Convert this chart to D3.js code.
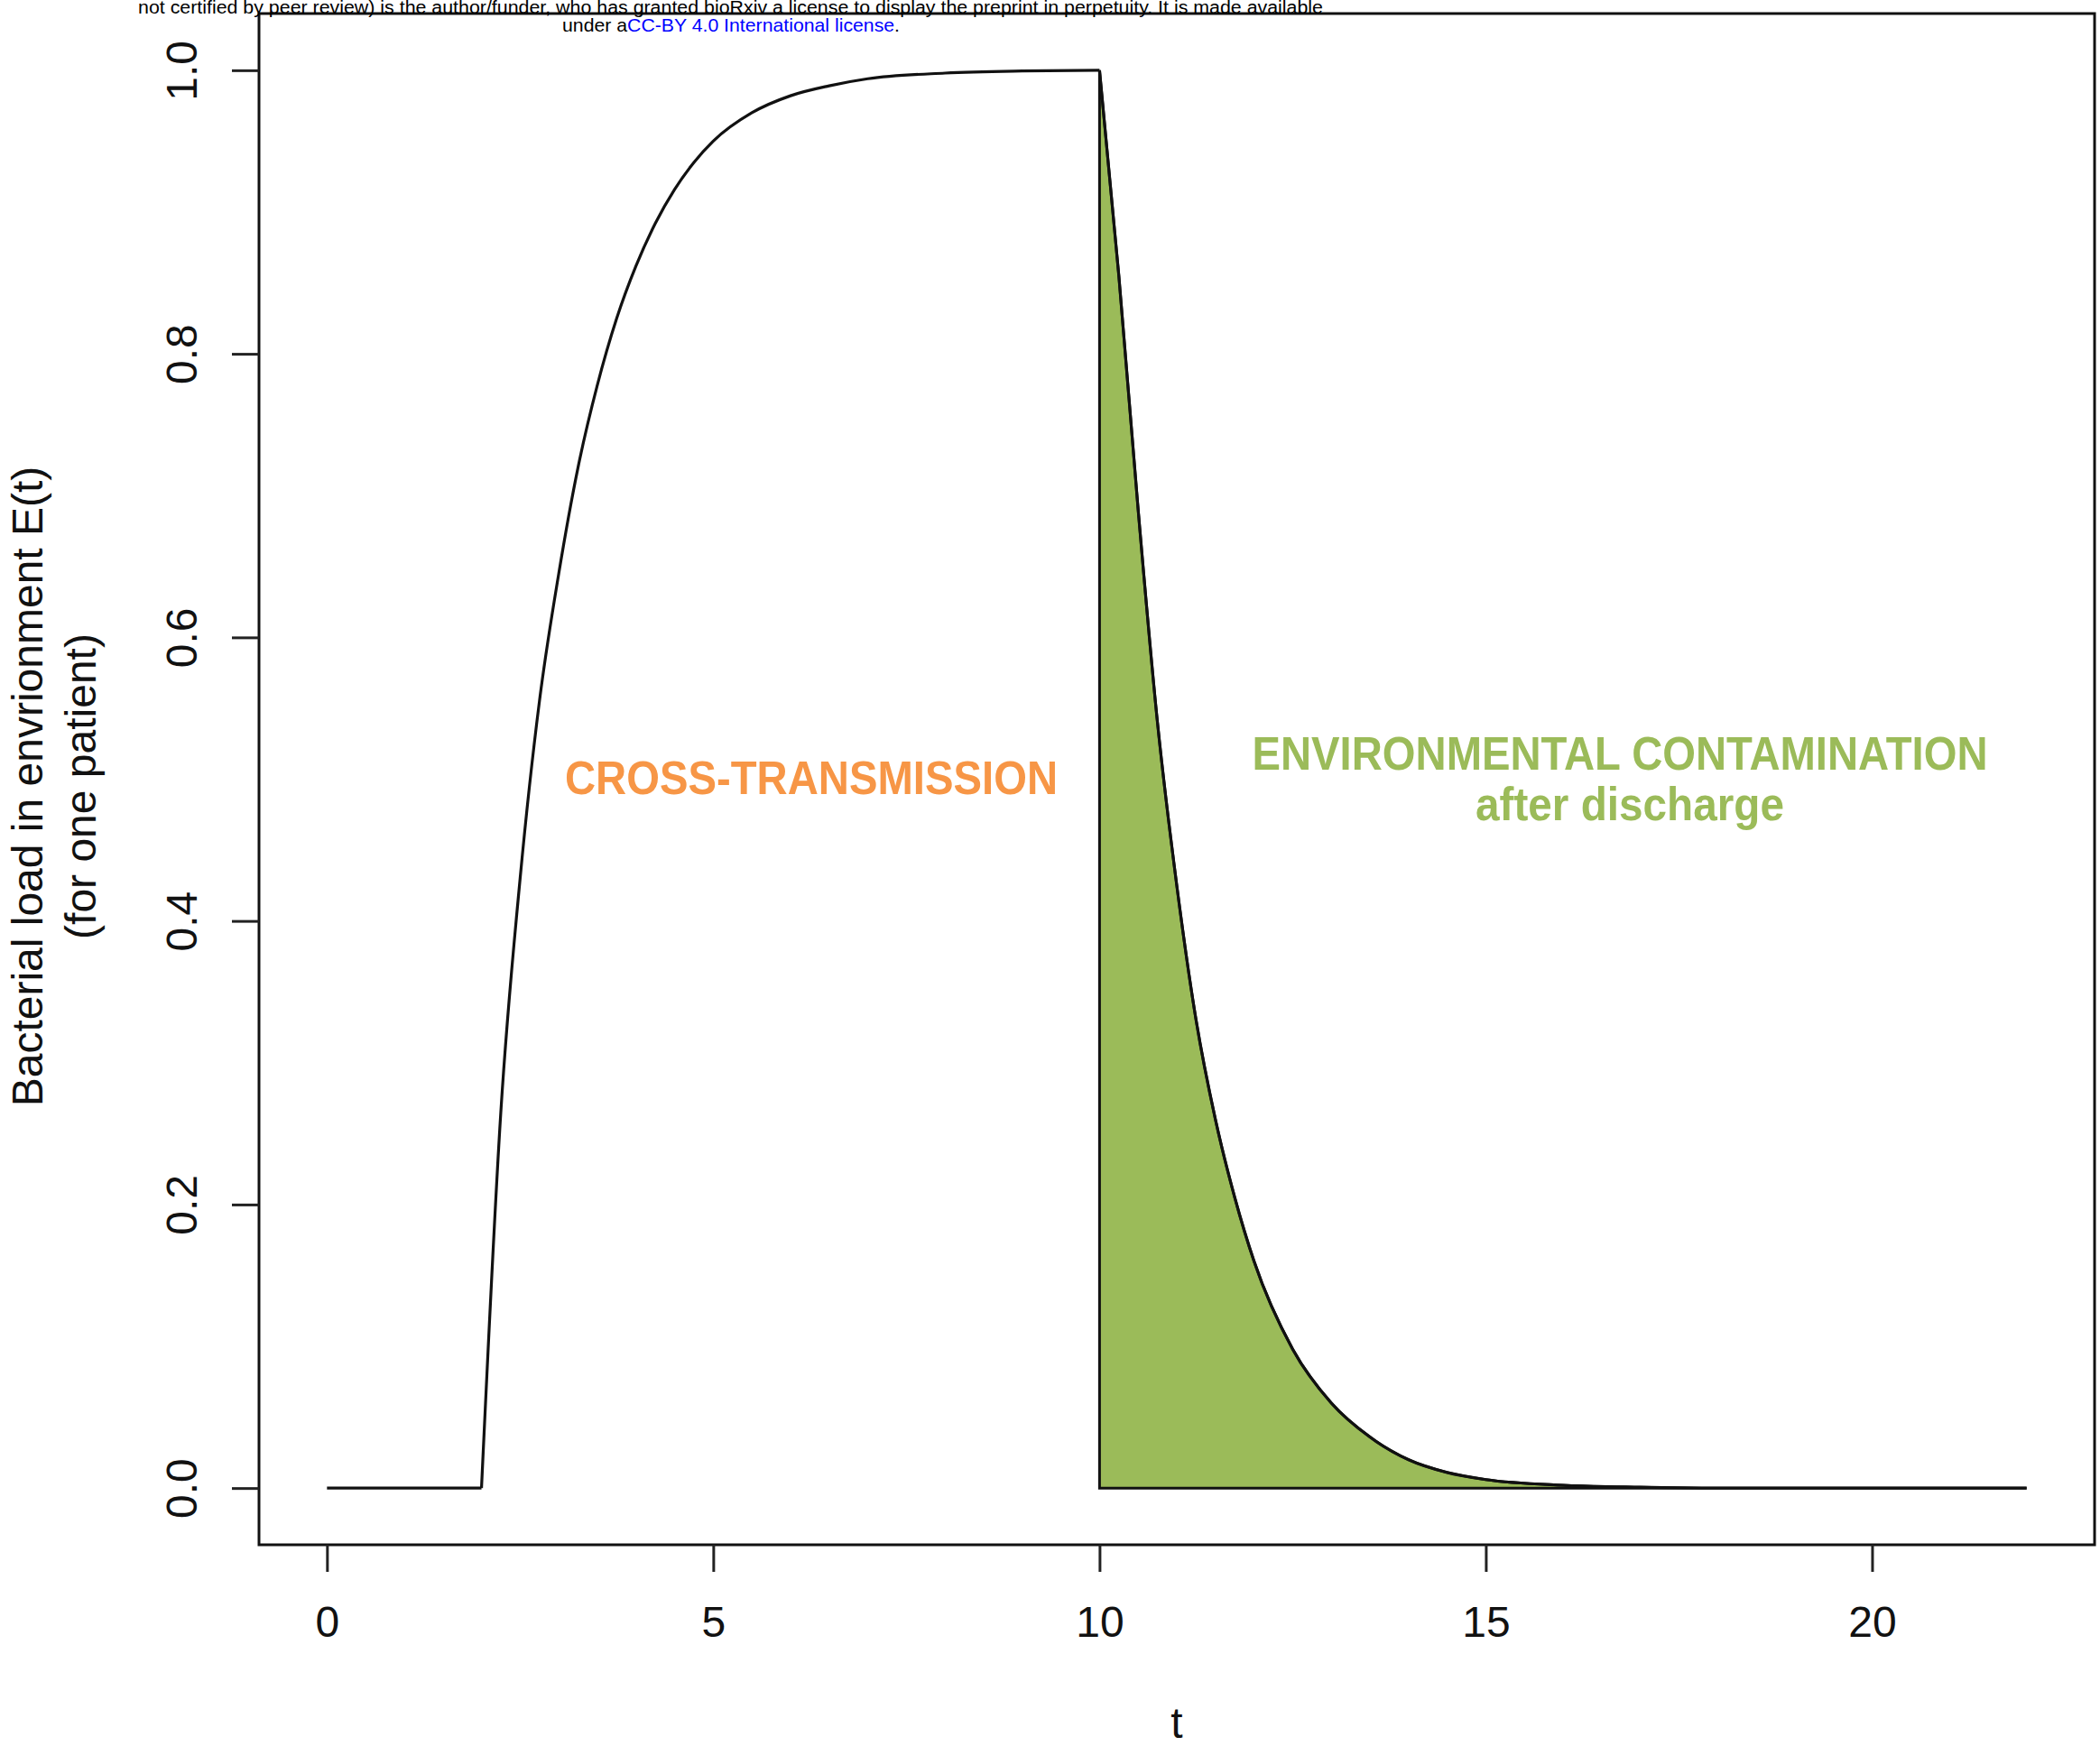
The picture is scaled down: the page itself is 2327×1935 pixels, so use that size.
<!DOCTYPE html>
<html>
<head>
<meta charset="utf-8">
<script src="https://cdn.jsdelivr.net/npm/d3@7"></script>
<style>
  body { margin: 0; background: #fff; }
  text { font-family: "Liberation Sans", Arial, Helvetica, sans-serif; }
</style>
</head>
<body>
<div id="chart"></div>
<script>
// Chart values
var flatT = [0, 2];
var flatE = [0, 0];

var riseT = [2, 2.25, 2.5, 2.75, 3, 3.25, 3.5, 3.75, 4, 4.25, 4.5, 4.75, 5, 5.5, 6, 6.5, 7, 8, 9, 10];
var riseE = [0, 0.265, 0.43, 0.555, 0.645, 0.72, 0.778, 0.825, 0.862, 0.892, 0.916, 0.935, 0.95, 0.97, 0.982, 0.989, 0.994, 0.998, 0.9995, 1.0];

var decayT = [10, 10.25, 10.5, 10.75, 11, 11.25, 11.5, 11.75, 12, 12.5, 13, 13.5, 14, 14.5, 15, 16, 17, 18, 22];
var decayE = [1.0, 0.855, 0.69, 0.54, 0.425, 0.33, 0.26, 0.205, 0.16, 0.098, 0.06, 0.036, 0.02, 0.011, 0.006, 0.002, 0.0006, 0, 0];

var xTicks = [0, 5, 10, 15, 20];
var yTicks = [0.0, 0.2, 0.4, 0.6, 0.8, 1.0];

// Chart params
var svgWidth = 2327;
var svgHeight = 1935;
var box = {left: 287, right: 2321, top: 15, bottom: 1712};

var svg = d3.select("#chart")
    .append("svg")
    .attr("width", svgWidth)
    .attr("height", svgHeight);

// R style extended limits (4% each side)
var x = d3.scaleLinear()
    .domain([-0.88, 22.88])
    .range([box.left, box.right]);

var y = d3.scaleLinear()
    .domain([-0.04, 1.04])
    .range([box.bottom, box.top]);

var zip = (ts, es) => ts.map((t, i) => ({t: t, e: es[i]}));
var flat = zip(flatT, flatE);
var rise = zip(riseT, riseE);
var decay = zip(decayT, decayE);

// green area after discharge
var area = d3.area()
    .x(d => x(d.t))
    .y0(y(0))
    .y1(d => y(d.e))
    .curve(d3.curveMonotoneX);

svg.append("path")
    .datum(decay)
    .attr("d", area)
    .attr("fill", "#9bbb59")
    .attr("stroke", "#111")
    .attr("stroke-width", 3);

var line = d3.line()
    .x(d => x(d.t))
    .y(d => y(d.e))
    .curve(d3.curveMonotoneX);

[flat, rise, decay].forEach(function(seg) {
    svg.append("path")
        .datum(seg)
        .attr("d", line)
        .attr("fill", "none")
        .attr("stroke", "#111")
        .attr("stroke-width", 3.2);
});

// box
svg.append("rect")
    .attr("x", box.left)
    .attr("y", box.top)
    .attr("width", box.right - box.left)
    .attr("height", box.bottom - box.top)
    .attr("fill", "none")
    .attr("stroke", "#111")
    .attr("stroke-width", 3);

// axes
var bottomAxis = d3.axisBottom(x)
    .tickValues(xTicks)
    .tickSize(30)
    .tickPadding(38)
    .tickFormat(d3.format("d"));

var xAxis = svg.append("g")
    .attr("transform", `translate(0, ${box.bottom})`)
    .call(bottomAxis);
xAxis.select(".domain").remove();
xAxis.selectAll("line").attr("stroke", "#222").attr("stroke-width", 3);
xAxis.selectAll("text")
    .attr("font-size", 48)
    .attr("font-family", "Liberation Sans, Arial, sans-serif")
    .attr("fill", "#111");

var leftAxis = d3.axisLeft(y)
    .tickValues(yTicks)
    .tickSize(30)
    .tickFormat(d3.format(".1f"));

var yAxis = svg.append("g")
    .attr("transform", `translate(${box.left}, 0)`)
    .call(leftAxis);
yAxis.select(".domain").remove();
yAxis.selectAll("line").attr("stroke", "#222").attr("stroke-width", 3);
yAxis.selectAll("text")
    .attr("x", null)
    .attr("dy", null)
    .attr("transform", "translate(-69, 0) rotate(-90)")
    .attr("text-anchor", "middle")
    .attr("font-size", 48)
    .attr("font-family", "Liberation Sans, Arial, sans-serif")
    .attr("fill", "#111");

// axis titles
svg.append("text")
    .attr("x", (box.left + box.right) / 2)
    .attr("y", 1926)
    .attr("text-anchor", "middle")
    .attr("font-size", 48)
    .attr("fill", "#111")
    .text("t");

var yTitle = svg.append("g")
    .attr("transform", `translate(0, ${(box.top + box.bottom) / 2 + 8}) rotate(-90)`);
yTitle.append("text")
    .attr("x", 0)
    .attr("y", 47)
    .attr("text-anchor", "middle")
    .attr("font-size", 48)
    .attr("fill", "#111")
    .text("Bacterial load in envrionment E(t)");
yTitle.append("text")
    .attr("x", 0)
    .attr("y", 106)
    .attr("text-anchor", "middle")
    .attr("font-size", 48)
    .attr("fill", "#111")
    .text("(for one patient)");

// annotations
svg.append("text")
    .attr("x", 899)
    .attr("y", 880)
    .attr("text-anchor", "middle")
    .attr("font-size", 52)
    .attr("font-weight", "bold")
    .attr("fill", "#f79646")
    .attr("textLength", 546)
    .attr("lengthAdjust", "spacingAndGlyphs")
    .text("CROSS-TRANSMISSION");

svg.append("text")
    .attr("x", 1795)
    .attr("y", 853)
    .attr("text-anchor", "middle")
    .attr("font-size", 52)
    .attr("font-weight", "bold")
    .attr("fill", "#9bbb59")
    .attr("textLength", 815)
    .attr("lengthAdjust", "spacingAndGlyphs")
    .text("ENVIRONMENTAL CONTAMINATION");

svg.append("text")
    .attr("x", 1806)
    .attr("y", 909)
    .attr("text-anchor", "middle")
    .attr("font-size", 52)
    .attr("font-weight", "bold")
    .attr("fill", "#9bbb59")
    .attr("textLength", 342)
    .attr("lengthAdjust", "spacingAndGlyphs")
    .text("after discharge");

// preprint header
svg.append("text")
    .attr("x", 153)
    .attr("y", 15)
    .attr("font-size", 20)
    .attr("fill", "#000")
    .attr("textLength", 1313)
    .attr("lengthAdjust", "spacingAndGlyphs")
    .text("not certified by peer review) is the author/funder, who has granted bioRxiv a license to display the preprint in perpetuity. It is made available");

var lic = svg.append("text")
    .attr("x", 623)
    .attr("y", 35)
    .attr("font-size", 21)
    .attr("fill", "#000")
    .attr("textLength", 374)
    .attr("lengthAdjust", "spacingAndGlyphs");
lic.append("tspan").text("under a");
lic.append("tspan").attr("fill", "#0000ff").text("CC-BY 4.0 International license");
lic.append("tspan").text(".");
</script>
</body>
</html>
